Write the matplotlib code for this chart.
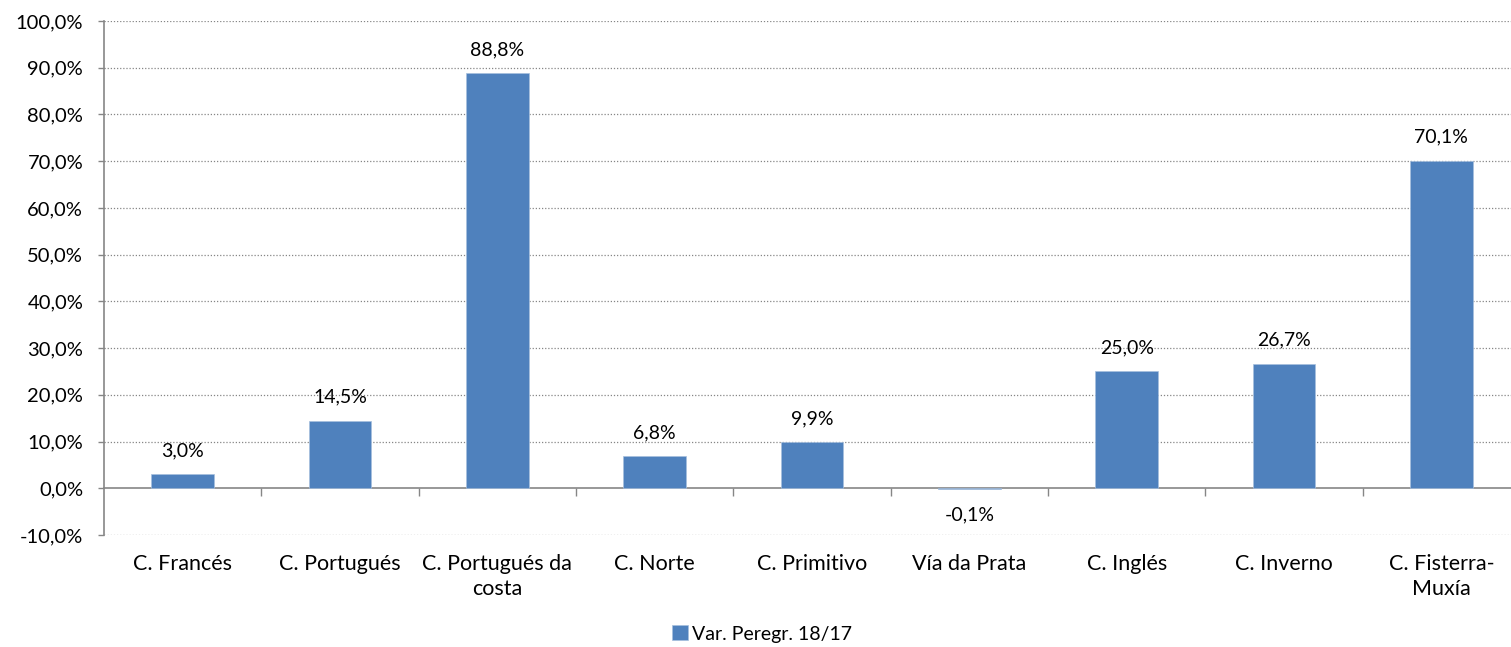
import matplotlib.pyplot as plt
import numpy as np

caminos = ["C. Francés", "C. Portugués", "C. Portugués da\ncosta", "C. Norte",
           "C. Primitivo", "Vía da Prata", "C. Inglés", "C. Inverno",
           "C. Fisterra-\nMuxía"]
variacion = [3.0, 14.5, 88.8, 6.8, 9.9, -0.1, 25.0, 26.7, 70.1]
serie = "Var. Peregr. 18/17"

plt.rcParams["font.family"] = ["Lato", "DejaVu Sans"]
gris = "#868686"
azul = "#4F81BD"

fig = plt.figure(figsize=(15.11, 6.47), dpi=100)
ax = fig.add_axes([104 / 1511, 112 / 647, 1416 / 1511, 514 / 647])

x = np.arange(len(caminos))
barras = ax.bar(x, variacion, width=0.4, color=azul, edgecolor="#A7C0DE",
                linewidth=0.5, label=serie, zorder=3)

# etiquetas de valor, formato con coma decimal
for xi, v in zip(x, variacion):
    off = 17 if v >= 0 else -19
    ax.annotate(f"{v:.1f}%".replace(".", ","), (xi, v), xytext=(0, off),
                textcoords="offset points", ha="center", va="center",
                fontsize=14)

ax.set_xlim(-0.5, len(caminos) - 0.5)
ax.set_ylim(-10, 100)
ax.set_yticks(np.arange(-10, 101, 10))
ax.set_yticklabels([f"{t:.1f}%".replace(".", ",") for t in np.arange(-10, 101, 10)])
ax.tick_params(axis="y", length=4, color=gris, width=1, pad=11, labelsize=14.5)

# rejilla punteada excepto en el cero
for t in np.arange(-10, 101, 10):
    if t != 0:
        ax.axhline(t, color=gris, linestyle=(0, (1, 1.5)), linewidth=0.9, zorder=1)

for s in ["top", "right", "bottom"]:
    ax.spines[s].set_visible(False)
ax.spines["left"].set_color(gris)
ax.spines["left"].set_linewidth(1.2)

# categorías debajo del -10 %
ax.set_xticks(x)
ax.set_xticklabels(caminos, fontsize=15.5, linespacing=1.3, va="top")
ax.tick_params(axis="x", length=0, pad=14)

# eje horizontal en el cero con marcas entre categorías
eje0 = ax.secondary_xaxis(10 / 110)
eje0.set_xticks(np.arange(0.5, len(caminos) - 0.5, 1))
eje0.set_xticklabels([])
eje0.tick_params(length=6, color=gris, width=1)
eje0.spines["bottom"].set_color(gris)
eje0.spines["bottom"].set_linewidth(1.2)

fig.legend(handles=[barras], loc="center", bbox_to_anchor=(762 / 1511, 1 - 634 / 647),
           frameon=False, fontsize=14, handlelength=0.8, handleheight=0.8,
           handletextpad=0.2)

fig.savefig("out.png", dpi=100)
